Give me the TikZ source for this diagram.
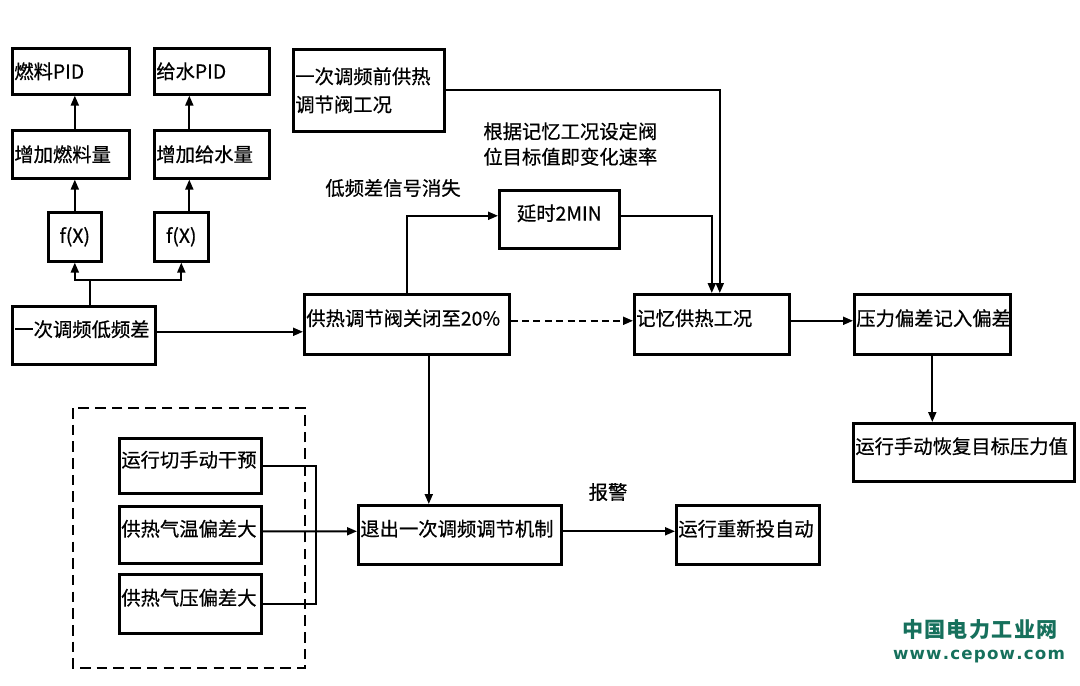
\documentclass[tikz,border=0pt]{standalone}
\usepackage{fontspec}
\setmainfont{Noto Sans CJK SC}[FakeBold=0.6]
\newfontfamily\wmfont{DejaVu Sans}
\newfontfamily\wmcjk{Noto Sans CJK SC}
\usepackage{xcolor}
\usetikzlibrary{arrows.meta}
\definecolor{cepow}{RGB}{22,112,92}

\begin{document}
\begin{tikzpicture}[x=0.02cm, y=-0.02cm,
    box/.style={draw, line width=1.5pt, anchor=north west, inner xsep=0.04cm, inner ysep=0pt,
        align=left, font=\fontsize{11}{16}\selectfont},
    up/.style={text height=0.34cm, text depth=0.29cm},
    lbl/.style={inner sep=0pt, align=left, font=\fontsize{11}{14.5}\selectfont},
    line/.style={line width=1.1pt},
    link/.style={line width=1.1pt, -{Triangle[length=0.2cm, width=0.16cm]}}]
    \useasboundingbox (0,0) rectangle (1080,686);

    % PID branch
    \node[box, minimum width=2.34cm, minimum height=0.92cm, text width=2.26cm] (fuelpid) at (11,47) {燃料PID};
    \node[box, minimum width=2.30cm, minimum height=0.92cm, text width=2.22cm] (waterpid) at (153,47) {给水PID};
    \node[box, minimum width=2.34cm, minimum height=0.96cm, text width=2.26cm] (addfuel) at (11,129) {增加燃料量};
    \node[box, minimum width=2.30cm, minimum height=0.96cm, text width=2.22cm] (addwater) at (153,129) {增加给水量};
    \node[box, align=center, minimum width=1.06cm, minimum height=0.98cm] (fxa) at (47,211) {f(X)};
    \node[box, align=center, minimum width=1.08cm, minimum height=0.98cm] (fxb) at (153,211) {f(X)};
    \node[box, up, minimum width=2.86cm, minimum height=1.16cm, text width=2.78cm] (lowdiff) at (11,305) {一次调频低频差};

    % heating valve chain
    \node[box, minimum width=3.02cm, minimum height=1.64cm, text width=2.94cm] (prevalve) at (292,48) {一次调频前供热\\调节阀工况};
    \node[box, up, minimum width=4.10cm, minimum height=1.20cm, text width=4.02cm] (valve) at (303,293) {供热调节阀关闭至20\%};
    \node[box, up, align=center, minimum width=2.40cm, minimum height=1.16cm] (delay) at (498,189) {延时2MIN};
    \node[box, up, minimum width=3.10cm, minimum height=1.20cm, text width=3.02cm] (memory) at (633,293) {记忆供热工况};
    \node[box, up, minimum width=3.12cm, minimum height=1.20cm, text width=3.04cm] (pressdev) at (853,293) {压力偏差记入偏差};
    \node[box, up, minimum width=4.42cm, minimum height=1.16cm, text width=4.34cm] (restore) at (852,422) {运行手动恢复目标压力值};

    % exit conditions
    \node[box, up, minimum width=2.84cm, minimum height=1.10cm, text width=2.76cm] (manual) at (118,437) {运行切手动干预};
    \node[box, up, minimum width=2.84cm, minimum height=1.14cm, text width=2.76cm] (tempdev) at (118,505) {供热气温偏差大};
    \node[box, up, minimum width=2.84cm, minimum height=1.18cm, text width=2.76cm] (gaspress) at (118,573) {供热气压偏差大};
    \node[box, up, minimum width=4.06cm, minimum height=1.18cm, text width=3.98cm] (quit) at (357,504) {退出一次调频调节机制};
    \node[box, up, minimum width=2.86cm, minimum height=1.18cm, text width=2.78cm] (reauto) at (675,504) {运行重新投自动};
    \draw[line width=1.5pt, dash pattern=on 6pt off 3.5pt] (73,408) rectangle (305,668);

    % Labels
    \node[lbl, anchor=west] (rate) at (483,144) {根据记忆工况设定阀\\位目标值即变化速率};
    \node[lbl, anchor=west] (vanish) at (325,188) {低频差信号消失};
    \node[lbl] (alarm) at (608,492) {报警};

    % Arrows
    \coordinate (split) at (90,280);
    \draw[line] (lowdiff.north -| split) -- (split);
    \draw[link] (split) -| (fxa.south);
    \draw[link] (split) -| (fxb.south);
    \draw[link] (fxa.north) -- (fxa.north |- addfuel.south);
    \draw[link] (addfuel.north -| fxa) -- (fuelpid.south -| fxa);
    \draw[link] ([xshift=0.16cm]fxb.north) -- ([xshift=0.16cm]fxb.north |- addwater.south);
    \draw[link] ([xshift=0.16cm]fxb.north |- addwater.north) -- ([xshift=0.16cm]fxb.north |- waterpid.south);
    \draw[link] (lowdiff.mid east) -- (lowdiff.mid east -| valve.west);
    \draw[link] (valve.north) |- (delay.mid west);
    \draw[link] (delay.mid east) -| (memory.north);
    \draw[link] (prevalve.east) -| ([xshift=0.16cm]memory.north);
    \draw[link, dash pattern=on 4pt off 2.5pt] (valve.mid east) -- (memory.mid west);
    \draw[link] (memory.mid east) -- (pressdev.mid west);
    \draw[link] (pressdev.south) -- (pressdev.south |- restore.north);
    \draw[link] ([xshift=0.44cm]valve.south) -- ([xshift=0.44cm]valve.south |- quit.north);
    \draw[line] (manual.east) -- ++(53,0) |- (gaspress.east);
    \draw[link] (tempdev.mid east) -- (quit.mid west);
    \draw[link] (quit.mid east) -- (reauto.mid west);

    % watermark
    \node[inner sep=0pt, text=cepow, font=\wmcjk\fontsize{12}{12}\selectfont\bfseries] (wmcn) at (980,630)
        {\makebox[3.12cm][s]{中\hfill 国\hfill 电\hfill 力\hfill 工\hfill 业\hfill 网}};
    \node[inner sep=0pt, text=cepow, font=\wmfont\fontsize{9.5}{9.5}\selectfont\bfseries] (wmurl) at (979,657)
        {\makebox[3.44cm][s]{w\hfill w\hfill w\hfill .\hfill c\hfill e\hfill p\hfill o\hfill w\hfill .\hfill c\hfill o\hfill m}};
\end{tikzpicture}
\end{document}
